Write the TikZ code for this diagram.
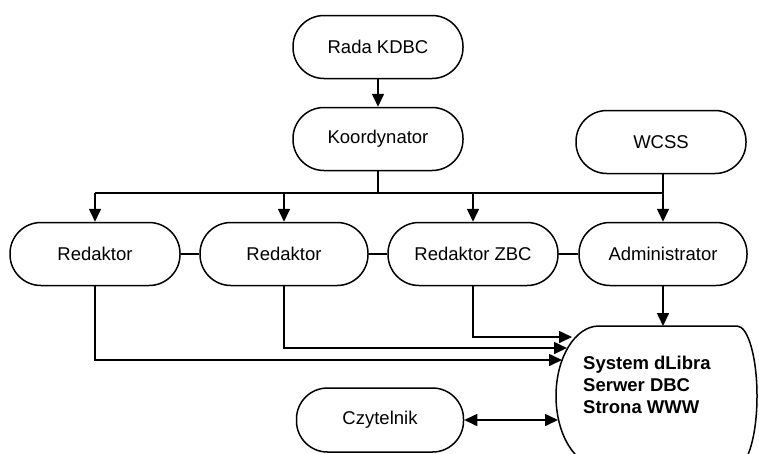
\documentclass[tikz,border=0pt]{standalone}
\usepackage{fontspec}
\setmainfont{Liberation Sans}
\usetikzlibrary{arrows.meta}

\begin{document}
\begin{tikzpicture}[
    x=1pt, y=-1pt,
    role/.style={rectangle, draw, line width=1.5pt, rounded corners=31pt,
        minimum width=170pt, minimum height=63pt, inner sep=0pt,
        font=\fontsize{18.5}{22}\selectfont},
    link/.style={line width=1.6pt},
    >={Triangle[length=13pt,width=12pt]}
]
\useasboundingbox (0,0) rectangle (759,453);
\clip (0,0) rectangle (759,453);

% Management
\node[role] (rada) at (378,47) {Rada KDBC};
\node[role] (koord) at (378,139) {Koordynator};
\node[role] (wcss) at (661,142) {WCSS};

% Staff row
\node[role] (red1) at (95,254) {Redaktor};
\node[role, minimum width=168pt] (red2) at (284,254) {Redaktor};
\node[role] (redzbc) at (473,254) {Redaktor ZBC};
\node[role, minimum width=168pt] (admin) at (663,254) {Administrator};

% Reader
\node[role, minimum width=167pt, minimum height=64pt] (czyt) at (380,420) {Czytelnik};

% System
\draw[line width=1.5pt] (599,326) -- (737,326)
    arc[start angle=-90, end angle=90, x radius=20, y radius=70] -- (599,466)
    arc[start angle=90, end angle=270, x radius=43, y radius=70] -- cycle;
\node[anchor=west, align=left, inner sep=0pt,
    font=\fontsize{18.5}{22}\selectfont\bfseries] (sys) at (583,385)
    {System dLibra\\Serwer DBC\\Strona WWW};
\coordinate (sysTop) at (663,326);
\coordinate (inZBC) at (572,337);
\coordinate (inR2) at (567,348);
\coordinate (inR1) at (562,360);
\coordinate (inCz) at (558,420);

% Bus
\coordinate (busL) at (95,193);
\coordinate (busR) at (663,193);

% Connections
\draw[link, ->] (rada) -- (koord);
\draw[link] (koord) -- (koord |- busL);
\draw[link] (wcss.south -| busR) -- (busR);
\draw[link] (busL) -- (busR);
\foreach \n in {red1, red2, redzbc, admin} {
    \draw[link, ->] (\n |- busL) -- (\n.north);
}
\draw[link] (red1) -- (red2);
\draw[link] (red2) -- (redzbc);
\draw[link] (redzbc) -- (admin);

\draw[link, ->] (admin) -- (sysTop);
\draw[link, ->] (redzbc) |- (inZBC);
\draw[link, ->] (red2) |- (inR2);
\draw[link, ->] (red1) |- (inR1);
\draw[link, <->] (czyt) -- (inCz);
\end{tikzpicture}
\end{document}
